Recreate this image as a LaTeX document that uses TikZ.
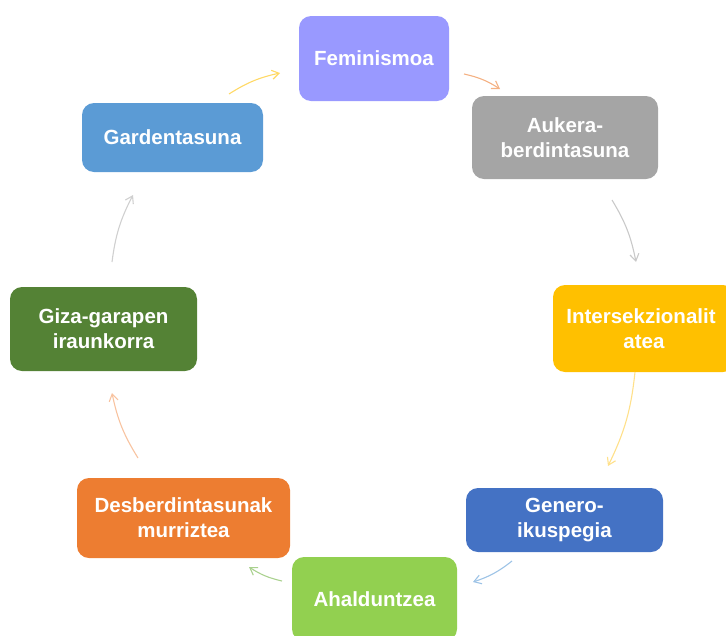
\documentclass[tikz,border=0pt]{standalone}
\usepackage{fontspec}
\setmainfont{Liberation Sans}
\usetikzlibrary{arrows.meta}
\definecolor{cfem}{HTML}{9999FF}
\definecolor{cauk}{HTML}{A5A5A5}
\definecolor{cint}{HTML}{FFC000}
\definecolor{cgen}{HTML}{4472C4}
\definecolor{caha}{HTML}{92D050}
\definecolor{cdes}{HTML}{ED7D31}
\definecolor{cgiz}{HTML}{548235}
\definecolor{cgar}{HTML}{5B9BD5}
\definecolor{ayel}{HTML}{FFD966}
\definecolor{aora}{HTML}{F4B183}
\definecolor{agry}{HTML}{C9C9C9}
\definecolor{ayel2}{HTML}{FFE08A}
\definecolor{ablu}{HTML}{9DC3E6}
\definecolor{agrn}{HTML}{A9D18E}
\definecolor{aora2}{HTML}{F8C3A0}
\definecolor{agry2}{HTML}{D0D0D0}
\tikzset{
  box/.style={rounded corners=12pt, text=white, align=center, inner sep=0pt,
    font=\fontsize{20.5}{25}\selectfont\bfseries},
  flow/.style={line width=1.1pt, -{Straight Barb[length=7pt,width=9pt]}, bend left=10}
}
\begin{document}
\begin{tikzpicture}[x=1pt,y=-1pt]
\useasboundingbox (0,0) rectangle (726,635);
\node[box, fill=cfem, minimum width=150pt, minimum height=85pt] (fem) at (374,58.5) {Feminismoa};
\node[box, fill=cauk, minimum width=186pt, minimum height=83pt] (auk) at (565,137.5) {Aukera-\\berdintasuna};
\node[box, fill=cint, minimum width=182pt, minimum height=87pt] (int) at (644,328.5) {\hspace*{-6pt}Intersekzionalit\\atea};
\node[box, fill=cgen, minimum width=197pt, minimum height=64pt] (gen) at (564.5,520) {Genero-\\ikuspegia};
\node[box, fill=caha, minimum width=165pt, minimum height=84pt] (aha) at (374.5,599) {Ahalduntzea};
\node[box, fill=cdes, minimum width=213pt, minimum height=80pt] (des) at (183.5,518) {Desberdintasunak\\murriztea};
\node[box, fill=cgiz, minimum width=187pt, minimum height=84pt] (giz) at (103.5,329) {Giza-garapen\\iraunkorra};
\node[box, fill=cgar, minimum width=181pt, minimum height=69pt] (gar) at (172.5,137.5) {Gardentasuna};
\coordinate (a1s) at (229,94);  \coordinate (a1e) at (280,73);
\coordinate (a2s) at (464,74);  \coordinate (a2e) at (500,89);
\coordinate (a3s) at (612,200); \coordinate (a3e) at (636,262);
\coordinate (a4s) at (635,372); \coordinate (a4e) at (608,466);
\coordinate (a5s) at (512,561); \coordinate (a5e) at (473,582);
\coordinate (a6s) at (282,581); \coordinate (a6e) at (249,567);
\coordinate (a7s) at (138,458); \coordinate (a7e) at (112,393);
\coordinate (a8s) at (112,262); \coordinate (a8e) at (133,195);
\draw[flow, ayel] (a1s) to (a1e);
\draw[flow, aora] (a2s) to (a2e);
\draw[flow, agry] (a3s) to (a3e);
\draw[flow, ayel2] (a4s) to (a4e);
\draw[flow, ablu] (a5s) to (a5e);
\draw[flow, agrn] (a6s) to (a6e);
\draw[flow, aora2] (a7s) to (a7e);
\draw[flow, agry2] (a8s) to (a8e);
\end{tikzpicture}
\end{document}
